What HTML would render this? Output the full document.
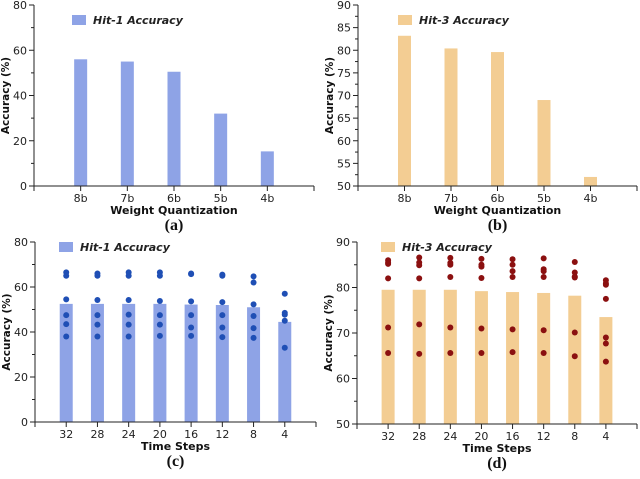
<!DOCTYPE html>
<html><head><meta charset="utf-8"><style>
body{margin:0;background:#fff;width:640px;height:474px;overflow:hidden}
svg{font-family:"DejaVu Sans","Liberation Sans",sans-serif}
</style></head><body>
<svg id="s" width="640" height="474"></svg>
<script>
const catsA=["8b","7b","6b","5b","4b"];
const valsA=[56,55,50.5,32,15.3];
const valsB=[83.2,80.4,79.6,69,52];
const catsT=["32","28","24","20","16","12","8","4"];
const valsC=[52.5,52.5,52.5,52.5,52.2,52,51,44.5];
const dotsC=[[66.5,65,54.5,47.5,43.5,38],[66,65,54.2,47.5,43.3,38],[66.5,65,54.2,47.7,43.3,38],[66.5,65,53.8,47.5,43.3,38.3],[66,65.7,53.6,47.5,42,38.3],[65.5,65,53.3,47.5,42,37.7],[64.7,62,52.3,47.1,41.7,37.4],[57,48.5,47.7,45,33]];
const valsD=[79.5,79.5,79.5,79.2,79,78.8,78.2,73.5];
const dotsD=[[86,85.5,85.2,82,71.2,65.6],[86.6,85.5,84.9,82,71.9,65.4],[86.5,85.4,85,82.3,71.2,65.6],[86.3,85,84.6,82.1,71,65.6],[86.2,85,83.6,82.3,70.8,65.8],[86.4,84,83.6,82.3,70.6,65.6],[85.6,83.3,82.4,82.2,70.1,64.9],[81.6,80.9,80.6,77.5,69,67.7,63.7]];
const yTicksA=[0,20,40,60,80], yTicksB=[50,55,60,65,70,75,80,85,90], yTicksD=[50,60,70,80,90];
const NS="http://www.w3.org/2000/svg", S=document.getElementById('s');
function el(t,a,p){const e=document.createElementNS(NS,t);for(const k in a)e.setAttribute(k,a[k]);(p||S).appendChild(e);return e;}
function panel(o){
  const g=el('g',{});
  
  
  const y=v=>o.y0-(v-o.min)/(o.max-o.min)*(o.y0-o.yt);
  const n=o.cats.length, step=(o.x1-o.x0)/(n+1), x=i=>o.x0+step*(i+1);
  o.vals.forEach((v,i)=>{const r=el('rect',{x:x(i)-o.bw/2,y:y(v),width:o.bw,height:o.y0-y(v),fill:o.col},g);
    
    });
  if(o.dots)o.dots.forEach((arr,i)=>arr.forEach(v=>{const c=el('circle',{cx:x(i),cy:y(v),r:3,fill:o.dc},g);
    
    }));
  el('line',{x1:o.x0,y1:o.yt,x2:o.x0,y2:o.y0,stroke:'#222','stroke-width':1},g);
  el('line',{x1:o.x0,y1:o.y0,x2:o.x1,y2:o.y0,stroke:'#222','stroke-width':1},g);
  el('line',{x1:o.x0,y1:o.y0,x2:o.x0,y2:o.y0+5,stroke:'#222'},g);
  el('line',{x1:o.x1,y1:o.y0,x2:o.x1,y2:o.y0+5,stroke:'#222'},g);
  o.ticks.forEach((t,j)=>{el('line',{x1:o.x0-5,y1:y(t),x2:o.x0,y2:y(t),stroke:'#222'},g);
    const tx=el('text',{x:o.x0-7,y:y(t)+4,'text-anchor':'end','font-size':11,fill:'#222'},g);tx.textContent=t;
    if(j<o.ticks.length-1){const m=(t+o.ticks[j+1])/2;el('line',{x1:o.x0-3,y1:y(m),x2:o.x0,y2:y(m),stroke:'#222'},g);}
  });
  o.cats.forEach((c,i)=>{el('line',{x1:x(i),y1:o.y0,x2:x(i),y2:o.y0+5,stroke:'#222'},g);
    const tx=el('text',{x:x(i),y:o.y0+16,'text-anchor':'middle','font-size':11,fill:'#222'},g);tx.textContent=c;});
  const xt=el('text',{x:(o.x0+o.x1)/2,y:o.y0+28,'text-anchor':'middle','font-size':11,'font-weight':'bold',fill:'#111'},g);xt.textContent=o.xt;
  
  
  const yc=(o.yt+o.y0)/2;
  const yt=el('text',{x:o.x0-25,y:yc,'text-anchor':'middle','font-size':10.5,'font-weight':'bold',fill:'#111',transform:`rotate(-90 ${o.x0-25} ${yc})`},g);yt.textContent='Accuracy (%)';
  
  
  const lg=el('g',{},g);
  
  
  el('rect',{x:o.lx,y:o.ly-5,width:14,height:10,fill:o.col},lg);
  const lt=el('text',{x:o.lx+21,y:o.ly+4,'font-size':11,'font-weight':'bold','font-style':'italic',fill:'#222'},lg);lt.textContent=o.leg;
  const cap=el('text',{x:(o.x0+o.x1)/2,y:o.y0+44,'text-anchor':'middle','font-size':16,'font-weight':'bold','font-family':'Liberation Serif,serif',fill:'#111'},g);cap.textContent=o.cap;
  
  
}
panel({name:'panel-a',cats:catsA,vals:valsA,min:0,max:80,ticks:yTicksA,x0:34,x1:314,y0:186,yt:5,bw:13,col:'#8ea3e6',xt:'Weight Quantization',leg:'Hit-1 Accuracy',lx:72,ly:20,cap:'(a)'});
panel({name:'panel-b',cats:catsA,vals:valsB,min:50,max:90,ticks:yTicksB,x0:358,x1:637,y0:186,yt:5,bw:13,col:'#f3cd93',xt:'Weight Quantization',leg:'Hit-3 Accuracy',lx:398,ly:20,cap:'(b)'});
panel({name:'panel-c',cats:catsT,vals:valsC,dots:dotsC,dc:'#1f4fb5',min:0,max:80,ticks:yTicksA,x0:35,x1:316,y0:422,yt:242,bw:13,col:'#8ea3e6',xt:'Time Steps',leg:'Hit-1 Accuracy',lx:59,ly:247,cap:'(c)'});
panel({name:'panel-d',cats:catsT,vals:valsD,dots:dotsD,dc:'#8b1010',min:50,max:90,ticks:yTicksD,x0:357,x1:637,y0:424,yt:242,bw:13,col:'#f3cd93',xt:'Time Steps',leg:'Hit-3 Accuracy',lx:381,ly:247,cap:'(d)'});
</script>
</body></html>
